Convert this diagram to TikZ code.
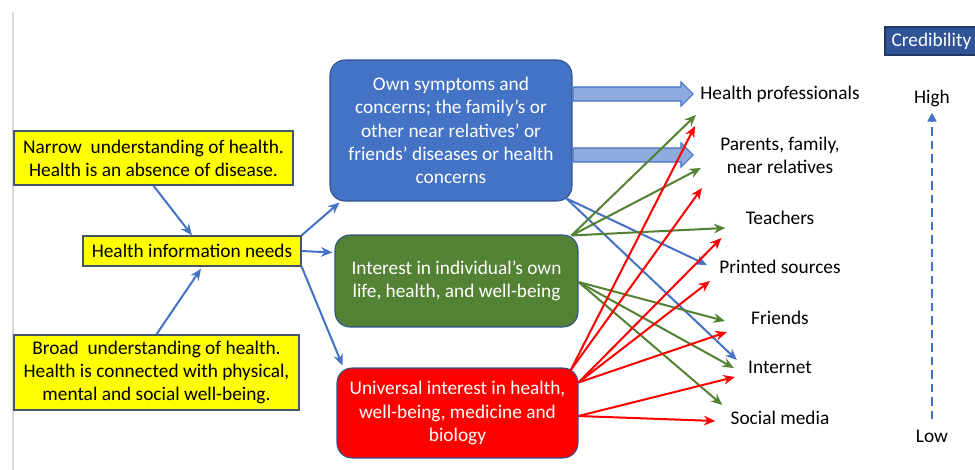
\documentclass[tikz,border=0pt]{standalone}
\usepackage{fontspec}
\setmainfont{Carlito}
\usepackage{tikz}
\usetikzlibrary{calc,shapes.arrows,arrows.meta}

\definecolor{NEED_YELLOW}{HTML}{FFFF00}
\definecolor{NEED_EDGE}{HTML}{44546A}
\definecolor{OWN_BLUE}{HTML}{4472C4}
\definecolor{LIFE_GREEN}{HTML}{548235}
\definecolor{UNI_RED}{HTML}{FF0000}
\definecolor{BOX_EDGE}{HTML}{2F528F}
\definecolor{BLOCK_FILL}{HTML}{8FAADC}
\definecolor{CRED_BLUE}{HTML}{2F5597}
\definecolor{CRED_EDGE}{HTML}{1F3864}
\tikzstyle{txt} = [font=\fontsize{11pt}{13.2pt}\selectfont, align=center]
\tikzstyle{need} = [txt, rectangle, fill=NEED_YELLOW, draw=NEED_EDGE, line width=0.8pt, inner sep=0pt]
\tikzstyle{layer} = [txt, rectangle, rounded corners=0.3cm, draw=BOX_EDGE, line width=0.6pt, text=white, inner sep=0pt]
\tikzstyle{OWN_LAYER} = [layer, fill=OWN_BLUE, minimum width=4.84cm, minimum height=2.82cm]
\tikzstyle{LIFE_LAYER} = [layer, fill=LIFE_GREEN, minimum width=4.86cm, minimum height=1.84cm]
\tikzstyle{UNI_LAYER} = [layer, fill=UNI_RED, minimum width=4.82cm, minimum height=1.8cm]
\tikzstyle{source} = [txt, inner sep=0pt]
\tikzstyle{link} = [-{Stealth[length=6.5pt,width=5.5pt]}, line width=1.15pt]
\tikzstyle{BLUE_LINK} = [link, OWN_BLUE]
\tikzstyle{GREEN_LINK} = [link, LIFE_GREEN]
\tikzstyle{RED_LINK} = [link, UNI_RED]
\tikzstyle{block} = [single arrow, draw=OWN_BLUE, fill=BLOCK_FILL, line width=0.6pt, minimum height=2.4cm, minimum width=0.46cm, single arrow head extend=0.1cm, inner xsep=0pt, inner ysep=0.13cm, anchor=tail]

\begin{document}
\begin{tikzpicture}[x=0.02cm, y=-0.02cm]
      \useasboundingbox (0,0) rectangle (975,470);
      \draw[black!15, line width=0.6pt] (13,12) -- (13,470);

      %%%%%%%%%%%%%%%%%%%%%%%%%%%%%%%%%%%%%%%%%%%%%%%%%
      % NEEDS
      %%%%%%%%%%%%%%%%%%%%%%%%%%%%%%%%%%%%%%%%%%%%%%%%%
      \node[need, minimum width=5.58cm, minimum height=1.08cm] (narrow) at (153.5,158) {Narrow\ \ understanding of health.\\Health is an absence of disease.};
      \node[need, minimum width=4.36cm, minimum height=0.6cm] (needs) at (192,251) {Health information needs};
      \node[need, minimum width=5.7cm, minimum height=1.5cm] (broad) at (156.5,372.5) {Broad\ \ understanding of health.\\Health is connected with physical,\\mental and social well-being.};

      %%%%%%%%%%%%%%%%%%%%%%%%%%%%%%%%%%%%%%%%%%%%%%%%%
      % INTERESTS
      %%%%%%%%%%%%%%%%%%%%%%%%%%%%%%%%%%%%%%%%%%%%%%%%%
      \node[OWN_LAYER] (own) at (451,130.5) {Own symptoms and\\concerns; the family’s or\\other near relatives’ or\\friends’ diseases or health\\concerns};
      \node[LIFE_LAYER] (life) at (456.5,281) {Interest in individual’s own\\life, health, and well-being};
      \node[UNI_LAYER] (uni) at (457.5,413) {Universal interest in health,\\well-being, medicine and\\biology};

      %%%%%%%%%%%%%%%%%%%%%%%%%%%%%%%%%%%%%%%%%%%%%%%%%
      % SOURCES
      %%%%%%%%%%%%%%%%%%%%%%%%%%%%%%%%%%%%%%%%%%%%%%%%%
      \node[source] (hp)       at (780,94)  {Health professionals};
      \node[source] (parents)  at (780,155) {Parents, family,\\near relatives};
      \node[source] (teachers) at (780,218) {Teachers};
      \node[source] (printed)  at (780,267) {Printed sources};
      \node[source] (friends)  at (780,318) {Friends};
      \node[source] (internet) at (780,367) {Internet};
      \node[source] (social)   at (780,418) {Social media};

      % credibility scale
      \node[txt, fill=CRED_BLUE, draw=CRED_EDGE, line width=0.8pt, text=white, minimum width=1.86cm, minimum height=0.56cm, inner sep=0pt] (cred) at (931.5,41) {Credibility};
      \node[source] (high) at (932,98)  {High};
      \node[source] (low)  at (932,436) {Low};
      \draw[OWN_BLUE, line width=1.3pt, dash pattern=on 0.17cm off 0.1cm, -{Triangle[length=5pt,width=5pt]}] ($(low.north)+(0,-10)$) -- ($(high.south)+(0,6)$);

      % needs links
      \draw[BLUE_LINK] (narrow.south) -- (needs.north);
      \draw[BLUE_LINK] (broad.north) -- ($(needs.south)+(9,2)$);
      \draw[BLUE_LINK] (needs.north east) -- ($(own.south west)+(10,1)$);
      \draw[BLUE_LINK] (needs.east) -- ($(life.north west)+(-2,18)$);
      \draw[BLUE_LINK] (needs.south east) -- ($(uni.north west)+(6,-2)$);

      % own
      \node[block] (block1) at (own.east |- hp.west) {};
      \node[block] (block2) at (own.east |- parents.west) {};
      \coordinate (own_out) at ($(own.south east)+(-6,-3)$);
      \draw[BLUE_LINK] (own_out) -- ($(printed.west)+(-12,-2)$);
      \draw[BLUE_LINK] (own_out) -- ($(internet.west)+(-11,-7)$);

      % life
      \coordinate (life_top) at ($(life.north east)+(-7,1)$);
      \coordinate (life_side) at ($(life.east)+(0,1)$);
      \draw[GREEN_LINK] (life_top) -- ($(hp.west)+(-4,21)$);
      \draw[GREEN_LINK] (life_top) -- ($(parents.west)+(-19,13)$);
      \draw[GREEN_LINK] (life_top) -- ($(teachers.west)+(-20,10)$);
      \draw[GREEN_LINK] (life_side) -- ($(friends.west)+(-26,3)$);
      \draw[GREEN_LINK] (life_side) -- ($(internet.west)+(-14,1)$);
      \draw[GREEN_LINK] (life_side) -- ($(social.west)+(-8,-13)$);

      % universal
      \coordinate (uni_top) at ($(uni.north east)+(-8,3)$);
      \coordinate (uni_mid) at ($(uni.north east)+(0,15)$);
      \coordinate (uni_low) at ($(uni.east)+(0,3)$);
      \draw[RED_LINK] (uni_top) -- ($(hp.west)+(-5,32)$);
      \draw[RED_LINK] (uni_top) -- ($(parents.west)+(-18,33)$);
      \draw[RED_LINK] (uni_mid) -- ($(teachers.west)+(-24,20)$);
      \draw[RED_LINK] (uni_mid) -- ($(printed.west)+(-9,14)$);
      \draw[RED_LINK] (uni_mid) -- ($(friends.west)+(-24,14)$);
      \draw[RED_LINK] (uni_low) -- ($(internet.west)+(-13,10)$);
      \draw[RED_LINK] (uni_low) -- ($(social.west)+(-15,3)$);
\end{tikzpicture}
\end{document}
